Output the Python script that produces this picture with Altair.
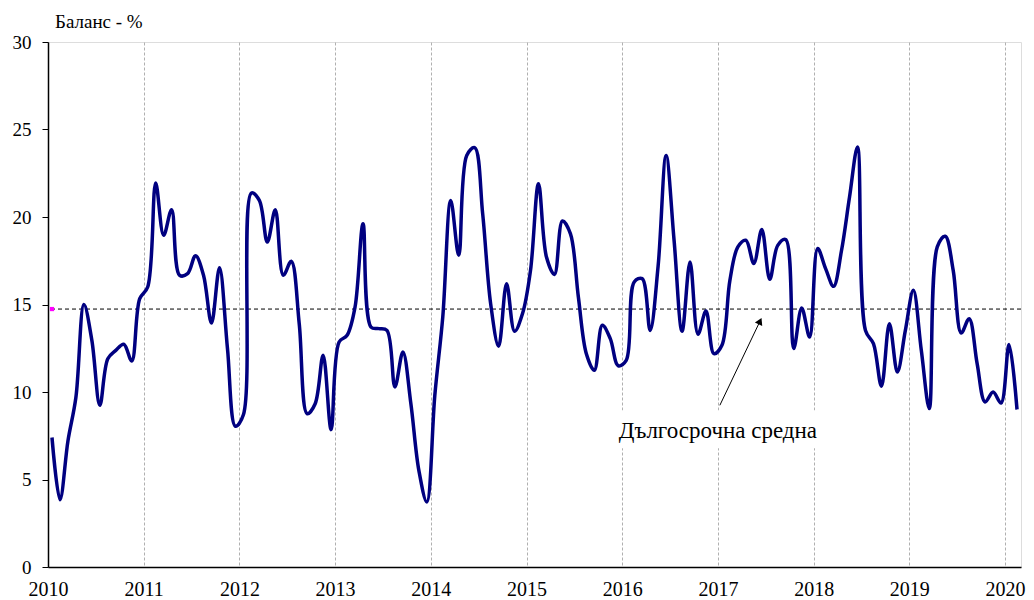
import altair as alt
import pandas as pd

# monthly balance, Jan 2010 .. Feb 2020 (%)
values_2010 = [7.4, 3.85, 7.2, 9.7, 15.0, 12.95, 9.24, 11.9, 12.38, 12.73, 11.77, 15.33]
values_2011 = [16.0, 21.94, 18.95, 20.42, 16.67, 16.76, 17.79, 16.67, 13.94, 17.1, 12.5, 8.04]
values_2012 = [8.7, 21.37, 20.95, 18.57, 20.42, 16.67, 17.47, 13.9, 8.76, 9.33, 12.1, 7.85]
values_2013 = [12.86, 13.24, 14.86, 19.62, 13.71, 13.62, 13.52, 10.29, 12.29, 9.33, 5.52, 3.71]
values_2014 = [9.8, 14.29, 20.95, 17.81, 23.52, 23.96, 20.19, 15.05, 12.61, 16.19, 13.47, 14.48]
values_2015 = [16.95, 21.9, 17.71, 16.72, 19.77, 19.05, 15.43, 12.19, 11.24, 13.81, 13.05, 11.5]
values_2016 = [11.81, 16.29, 16.48, 13.52, 17.2, 23.52, 18.67, 13.47, 17.43, 13.3, 14.63, 12.19]
values_2017 = [12.67, 16.38, 18.29, 18.67, 17.34, 19.29, 16.44, 18.38, 18.71, 12.48, 14.8, 13.14]
values_2018 = [18.2, 17.05, 16.04, 18.1, 21.14, 24.0, 13.52, 12.76, 10.33, 13.9, 11.14, 13.52]
values_2019 = [15.81, 12.38, 9.05, 18.29, 18.9, 16.95, 13.37, 14.19, 11.62, 9.43, 10.0, 9.37]
values_2020 = [12.71, 9.0]

long_term_mean = 14.74
year_ticks = list(range(2010, 2021))
title_text = "Баланс - %"
note_text = "Дългосрочна средна"
note_x = [2017.0]
note_y = [7.35]
note_box = {"x": [2015.96], "x2": [2018.07], "y": [6.78], "y2": [8.95]}
arrow = {"x": [2017.02], "y": [9.24], "x2": [2017.44], "y2": [14.05]}

series = (values_2010 + values_2011 + values_2012 + values_2013 + values_2014 +
          values_2015 + values_2016 + values_2017 + values_2018 + values_2019 + values_2020)
df = pd.DataFrame({"t": [2010 + (i + 0.5) / 12 for i in range(len(series))], "v": series})
x_end = 2010 + len(series) / 12

FONT = "Liberation Serif"
xs = alt.Scale(domain=[2010, x_end], nice=False, zero=False)
ys = alt.Scale(domain=[0, 30], nice=False)

xax = alt.Axis(values=year_ticks, format="d", title=None, ticks=False, tickSize=0,
               grid=True, gridColor="#b0b0b0", gridDash=[3, 2], gridWidth=1,
               domainColor="black", domainWidth=1.5, labelFont=FONT, labelFontSize=20,
               labelColor="black", labelPadding=12, labelFlush=False)
yax = alt.Axis(values=[0, 5, 10, 15, 20, 25, 30], title=None, grid=False,
               domainColor="black", domainWidth=1.5, tickColor="black", tickSize=6,
               labelFont=FONT, labelFontSize=19, labelColor="black", labelPadding=11)

base = alt.Chart(df)

frame = base.mark_line(opacity=0).encode(
    x=alt.X("t:Q", scale=xs, axis=xax),
    y=alt.Y("v:Q", scale=ys, axis=yax),
)

box = alt.Chart(pd.DataFrame(note_box)).mark_rect(color="white").encode(
    x=alt.X("x:Q", scale=xs), x2="x2:Q", y=alt.Y("y:Q", scale=ys), y2="y2:Q")

note = alt.Chart(pd.DataFrame({"x": note_x, "y": note_y, "s": [note_text]})).mark_text(
    font=FONT, fontSize=23, color="black", align="center", baseline="alphabetic"
).encode(x=alt.X("x:Q", scale=xs), y=alt.Y("y:Q", scale=ys), text="s:N")

mean_df = pd.DataFrame({"m": [long_term_mean]})
mean_rule = alt.Chart(mean_df).mark_rule(color="black", strokeDash=[4, 3], strokeWidth=1).encode(
    y=alt.Y("m:Q", scale=ys))

marker = alt.Chart(pd.DataFrame({"x": [df["t"].iloc[0]], "y": [long_term_mean]})).mark_square(
    color="#ff00ff", size=18, opacity=1).encode(x=alt.X("x:Q", scale=xs), y=alt.Y("y:Q", scale=ys))

arrow_df = pd.DataFrame(arrow)
arrow_line = alt.Chart(arrow_df).mark_rule(color="black", strokeWidth=1).encode(
    x=alt.X("x:Q", scale=xs), y=alt.Y("y:Q", scale=ys), x2="x2:Q", y2="y2:Q")
arrow_head = alt.Chart(arrow_df).mark_point(
    shape="triangle-up", filled=True, color="black", size=65, angle=25, opacity=1
).encode(x=alt.X("x2:Q", scale=xs), y=alt.Y("y2:Q", scale=ys))

line = base.mark_line(color="#000080", strokeWidth=3.5, interpolate="catmull-rom").encode(
    x=alt.X("t:Q", scale=xs), y=alt.Y("v:Q", scale=ys))

title = alt.Chart(pd.DataFrame({"s": [title_text]})).mark_text(
    font=FONT, fontSize=19, color="black", align="left", baseline="alphabetic"
).encode(x=alt.value(7), y=alt.value(-14), text="s:N")

chart = alt.layer(frame, box, note, mean_rule, marker, arrow_line, arrow_head, line, title).properties(
    width=973, height=525,
    autosize=alt.AutoSizeParams(type="none"),
    padding={"left": 40, "top": 34, "right": 5, "bottom": 38},
).configure_view(stroke="#808080", strokeWidth=1).configure(background="white")

chart.save("out.html", embed_options={"renderer": "svg", "actions": False})
